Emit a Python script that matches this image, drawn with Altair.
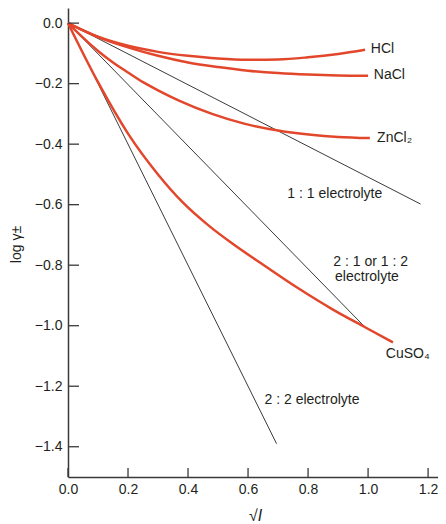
import altair as alt
import pandas as pd

# ---- data ----
x_ticks = [0.0, 0.2, 0.4, 0.6, 0.8, 1.0, 1.2]
y_ticks = [0.0, -0.2, -0.4, -0.6, -0.8, -1.0, -1.2, -1.4]

hcl_x = [0.0, 0.1, 0.2, 0.3, 0.4, 0.5, 0.6, 0.7, 0.8, 0.9, 0.99]
hcl_y = [0.0, -0.045, -0.075, -0.095, -0.108, -0.117, -0.121, -0.120, -0.113, -0.102, -0.088]

nacl_x = [0.0, 0.1, 0.2, 0.3, 0.4, 0.5, 0.6, 0.7, 0.8, 0.9, 1.0]
nacl_y = [0.0, -0.046, -0.080, -0.108, -0.130, -0.145, -0.157, -0.165, -0.170, -0.173, -0.174]

zncl2_x = [0.0, 0.05, 0.1, 0.15, 0.2, 0.25, 0.3, 0.37, 0.48, 0.59, 0.70, 0.81, 0.9, 1.006]
zncl2_y = [0.0, -0.048, -0.092, -0.130, -0.163, -0.195, -0.222, -0.256, -0.300, -0.333, -0.355, -0.369, -0.376, -0.380]

cuso4_x = [0.0, 0.1, 0.2, 0.3, 0.38, 0.47, 0.55, 0.66, 0.77, 0.88, 0.99, 1.083]
cuso4_y = [0.0, -0.195, -0.365, -0.500, -0.590, -0.670, -0.730, -0.805, -0.878, -0.945, -1.005, -1.055]

line11_x = [0.0, 1.175]
line11_y = [0.0, -0.598]
line21_x = [0.0, 0.99]
line21_y = [0.0, -1.005]
line22_x = [0.0, 0.695]
line22_y = [0.0, -1.39]

labels = ["HCl", "NaCl", "ZnCl₂", "1 : 1 electrolyte", "2 : 1 or 1 : 2", "electrolyte", "CuSO₄", "2 : 2 electrolyte"]
label_x = [1.009, 1.019, 1.030, 0.731, 0.884, 0.890, 1.059, 0.655]
label_y = [-0.087, -0.173, -0.381, -0.564, -0.790, -0.840, -1.095, -1.245]

RED = "#E2472C"
DARK = "#3a3a3a"
TXT = "#231F20"
FONT = "Liberation Sans"
W, H = 370, 469


def frame(series):
    rows = []
    for name, xs, ys in series:
        for i, (a, b) in enumerate(zip(xs, ys)):
            rows.append({"series": name, "order": i, "x": a, "y": b})
    return pd.DataFrame(rows)


red_df = frame([("HCl", hcl_x, hcl_y), ("NaCl", nacl_x, nacl_y),
                ("ZnCl2", zncl2_x, zncl2_y), ("CuSO4", cuso4_x, cuso4_y)])
black_df = frame([("11", line11_x, line11_y), ("21", line21_x, line21_y),
                  ("22", line22_x, line22_y)])
lab_df = pd.DataFrame({"label": labels, "x": label_x, "y": label_y})
xt_df = pd.DataFrame({"x": x_ticks})
yt_df = pd.DataFrame({"y": y_ticks})

xs = alt.Scale(domain=[0, 1.233], nice=False, zero=False)
ys = alt.Scale(domain=[-1.5, 0.05], nice=False, zero=False)

MINUS_EXPR = "replace(format(datum.value, '.1f'), '-', '\u2212')"

xaxis = alt.Axis(values=x_ticks, labelExpr=MINUS_EXPR, ticks=False, grid=False,
                 labelFontSize=14, labelPadding=5, labelColor=TXT, labelFlush=False,
                 labelOverlap=False,
                 title="√I", titleFontSize=16, titleFontStyle="italic",
                 titleFontWeight="normal", titleColor=TXT,
                 titleX=187, titleY=38, titleBaseline="middle")
yaxis = alt.Axis(values=y_ticks, labelExpr=MINUS_EXPR, ticks=False, grid=False,
                 labelFontSize=14, labelPadding=6, labelColor=TXT, labelFlush=False,
                 labelOverlap=False,
                 title="log  γ±", titleFontSize=14, titleFontWeight="normal",
                 titleColor=TXT, titleAngle=270, titleX=-48, titleY=236,
                 titleBaseline="alphabetic", titleAlign="center")

X = alt.X("x:Q", scale=xs, axis=xaxis)
Y = alt.Y("y:Q", scale=ys, axis=yaxis)

black = alt.Chart(black_df).mark_line(color=DARK, strokeWidth=1).encode(
    x=X, y=Y, detail="series:N", order="order:Q")
red = alt.Chart(red_df).mark_line(color=RED, strokeWidth=2.5, interpolate="monotone").encode(
    x=X, y=Y, detail="series:N", order="order:Q")
text = alt.Chart(lab_df).mark_text(align="left", baseline="middle", fontSize=14,
                                   font=FONT, color=TXT).encode(x=X, y=Y, text="label:N")
xt = alt.Chart(xt_df).mark_rule(color=DARK, strokeWidth=1.3).encode(
    x=X, y=alt.value(H), y2=alt.value(H - 9))
yt = alt.Chart(yt_df).mark_rule(color=DARK, strokeWidth=1.3).encode(
    y=Y, x=alt.value(0), x2=alt.value(11))

chart = alt.layer(black, red, xt, yt, text).properties(
    width=W, height=H,
    autosize=alt.AutoSizeParams(type="none"),
    padding={"left": 60, "top": 0, "right": 0, "bottom": 46},
).configure_view(stroke=None).configure_axis(
    labelFont=FONT, titleFont=FONT, domainColor=DARK, domainWidth=1.5,
)

chart.save("out.html", embed_options={"renderer": "svg", "actions": False})
